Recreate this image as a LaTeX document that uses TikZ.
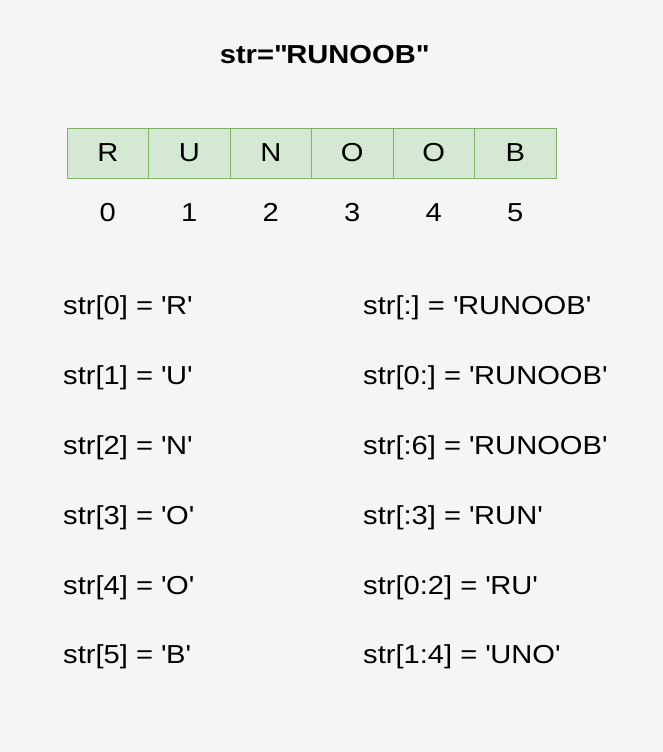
\documentclass[tikz,border=0pt]{standalone}
\usepackage{fontspec}
\setmainfont[FakeStretch=1.12]{Liberation Sans}
\usetikzlibrary{positioning}
\frenchspacing
\definecolor{bgray}{HTML}{F5F5F5}
\definecolor{cellfill}{HTML}{D5E8D4}
\definecolor{cellline}{HTML}{82B366}
\newcommand{\sq}{\textquotesingle}
\tikzset{
    cell/.style = {draw=cellline, fill=cellfill, rectangle, line width=1pt,
        inner sep=0pt,
        minimum height=50pt,
        minimum width=81.5pt,
        font=\fontsize{26}{30}\selectfont},
    idx/.style = {inner sep=0pt, anchor=base, font=\fontsize{26}{30}\selectfont},
    expr/.style = {inner sep=0pt, anchor=base west, font=\fontsize{26}{30}\selectfont},
    title/.style = {inner sep=0pt, anchor=base, font=\fontsize{26}{30}\selectfont\bfseries}
}
\begin{document}
\begin{tikzpicture}[x=1pt,y=-1pt]
    \fill[bgray] (0,0) rectangle (663,752);
    \useasboundingbox (0,0) rectangle (663,752);
    \node[title] (ttl) at (324,63.5) {str=\textquotedbl RUNOOB\textquotedbl};
    % cells
    \node[cell] (c0) at (107.8,153) {R};
    \node[cell] (c1) at (189.3,153) {U};
    \node[cell] (c2) at (270.8,153) {N};
    \node[cell] (c3) at (352.3,153) {O};
    \node[cell] (c4) at (433.8,153) {O};
    \node[cell] (c5) at (515.3,153) {B};
    % indices
    \node[idx] (i0) at (107.8,221.5) {0};
    \node[idx] (i1) at (189.3,221.5) {1};
    \node[idx] (i2) at (270.8,221.5) {2};
    \node[idx] (i3) at (352.3,221.5) {3};
    \node[idx] (i4) at (433.8,221.5) {4};
    \node[idx] (i5) at (515.3,221.5) {5};
    % single characters
    \node[expr] (s0) at (63,314) {str[0] = \sq R\sq};
    \node[expr] (s1) at (63,384) {str[1] = \sq U\sq};
    \node[expr] (s2) at (63,454) {str[2] = \sq N\sq};
    \node[expr] (s3) at (63,524) {str[3] = \sq O\sq};
    \node[expr] (s4) at (63,594) {str[4] = \sq O\sq};
    \node[expr] (s5) at (63,663) {str[5] = \sq B\sq};
    % slices
    \node[expr] (r0) at (363,314) {str[:] = \sq RUNOOB\sq};
    \node[expr] (r1) at (363,384) {str[0:] = \sq RUNOOB\sq};
    \node[expr] (r2) at (363,454) {str[:6] = \sq RUNOOB\sq};
    \node[expr] (r3) at (363,524) {str[:3] = \sq RUN\sq};
    \node[expr] (r4) at (363,594) {str[0:2] = \sq RU\sq};
    \node[expr] (r5) at (363,663) {str[1:4] = \sq UNO\sq};
\end{tikzpicture}
\end{document}
